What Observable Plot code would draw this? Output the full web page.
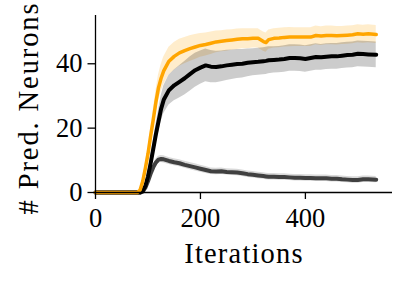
<!DOCTYPE html>
<html>
<head>
<meta charset="utf-8">
<script src="https://cdn.jsdelivr.net/npm/d3@7"></script>
<script src="https://cdn.jsdelivr.net/npm/@observablehq/plot@0.6"></script>
<style>
  html, body { margin: 0; padding: 0; background: white; }
</style>
</head>
<body>
<div id="chart"></div>
<script>
const iters = [0,80,85,90,95,100,105,110,115,120,125,130,140,150,160,170,180,190,200,210,220,230,240,250,260,270,280,290,300,310,320,325,330,340,350,360,370,380,390,400,410,420,430,440,450,460,470,480,490,500,510,520,535];

const orangeMean = [0,0,0.8,3.5,7.5,12,17.5,22.5,28,32.5, 35.5,37.8,40.8,42.3,43.4,44.1,44.7,45.2,45.7,46, 46.4,46.8,47,47.2,47.4,47.6,47.8,47.8,47.9,47.9, 46.9,46.6,47.5,47.9,48,48.2,48.3,48.3,48.3,48.3, 48.3,48.8,48.6,48.8,48.8,48.7,48.8,48.9,49,49.3, 49.2,49.3,49.1];
const orangeSd = [0,0,0.3,1,1.5,2,2.5,3,3.5,4, 4.2,4.3,4.3,4.3,4.2,4.1,4,3.9,3.7,3.6, 3.5,3.4,3.3,3.3,3.2,3.2,3.1,3.1,3,3, 3,3,3,3,3,3,3,2.9,2.9,2.9, 2.9,2.9,2.9,2.9,2.9,2.9,2.8,2.8,2.8,2.8, 2.8,2.8,2.8];

const blackMean = [0,0,0,0.5,2,5,9,13.5,18,22, 26,28.8,31.8,33.3,34.4,35.5,36.8,38,38.8,39.5, 39.1,39,39.2,39.5,39.7,39.9,40,40.3,40.5,40.6, 40.8,40.9,41.1,41.2,41.3,41.5,41.8,41.8,41.7,41.5, 41.8,42.1,42,42.2,42.3,42.3,42.5,42.7,42.8,43.1, 43,42.9,42.8];
const blackSd = [0,0,0,0.3,0.8,1.5,2,2.5,3,3.5, 4,4.3,4.6,4.8,5,5.2,5.3,5.3,5.2,5.1, 5,4.9,4.8,4.7,4.6,4.5,4.4,4.3,4.2,4.2, 4.2,4.2,4.2,4.1,4.1,4.1,4.1,4.1,4.1,4.1, 4.1,4.1,4,4,4,4,4,4,4,4, 4,4,4];

const grayMean = [0,0,0,0.3,1.5,3.5,5.8,7.8,9.3,10.2, 10.4,10.3,9.8,9.4,9.1,8.6,8.2,7.8,7.4,7, 6.6,6.5,6.6,6.4,6.3,6.2,6,5.7,5.5,5.3, 5.1,5,4.9,4.9,4.8,4.8,4.7,4.6,4.6,4.5, 4.5,4.4,4.4,4.4,4.3,4.3,4.1,4,3.9,3.9, 4.1,4.1,4];
const graySd = [0,0,0,0.1,0.3,0.5,0.7,0.9,1,1.1, 1.1,1.1,1.1,1.1,1.1,1.1,1.1,1.1,1.1,1.1, 1,1,1,1,1,1,1,1,1,1, 1,1,1,1,1,1,1,1,1,1, 1,1,1,1,1,1,1,1,1,1, 1,1,1];

const xTicks = [0, 200, 400];
const yTicks = [0, 20, 40];
const xLabel = "Iterations";
const yLabel = "# Pred. Neurons";

const data = iters.map((x, i) => ({
  x,
  o: orangeMean[i], os: orangeSd[i],
  b: blackMean[i], bs: blackSd[i],
  g: grayMean[i], gs: graySd[i]
}));

const svg = Plot.plot({
  width: 407,
  height: 287,
  marginLeft: 95,
  marginRight: 15,
  marginTop: 15,
  marginBottom: 95,
  style: { fontFamily: "Liberation Serif", fontSize: "26.5px", background: "white", color: "black" },
  x: { domain: [0, 566], label: null },
  y: { domain: [0, 55], label: null },
  marks: [
    Plot.areaY(data, { x: "x", y1: d => d.o - d.os, y2: d => d.o + d.os, fill: "#FFA500", fillOpacity: 0.2 }),
    Plot.areaY(data, { x: "x", y1: d => d.b - d.bs, y2: d => d.b + d.bs, fill: "#000", fillOpacity: 0.2 }),
    Plot.areaY(data, { x: "x", y1: d => d.g - d.gs, y2: d => d.g + d.gs, fill: "#000", fillOpacity: 0.15 }),
    Plot.line(data, { x: "x", y: "g", stroke: "#404040", strokeWidth: 4 }),
    Plot.line(data, { x: "x", y: "b", stroke: "#000000", strokeWidth: 4 }),
    Plot.line(data, { x: "x", y: "o", stroke: "#FFA500", strokeWidth: 3.5 }),
    Plot.ruleY([0], { strokeWidth: 1.3 }),
    Plot.ruleX([0], { strokeWidth: 1.3 }),
    Plot.axisX({ ticks: xTicks, tickSize: 7, tickPadding: 9, label: null, strokeWidth: 1.3, tickFormat: d => String(d) }),
    Plot.axisY({ ticks: yTicks, tickSize: 7.5, tickPadding: 5.5, label: null, strokeWidth: 1.3, tickFormat: d => String(d) }),
    Plot.text([xLabel], { text: d => d, frameAnchor: "bottom", textAnchor: "middle", lineAnchor: "middle", dy: 61, fontSize: 28.5 }),
    Plot.text([yLabel], { text: d => d, frameAnchor: "left", textAnchor: "middle", lineAnchor: "middle", dx: -67, dy: 4, rotate: -90, fontSize: 28.5 })
  ]
});

d3.select(svg).selectAll("text").each(function() {
  const t = this.textContent;
  if (t === xLabel) this.style.letterSpacing = "1.2px";
  if (t === yLabel) this.style.letterSpacing = "1.9px";
});

document.getElementById("chart").appendChild(svg);
</script>
</body>
</html>
